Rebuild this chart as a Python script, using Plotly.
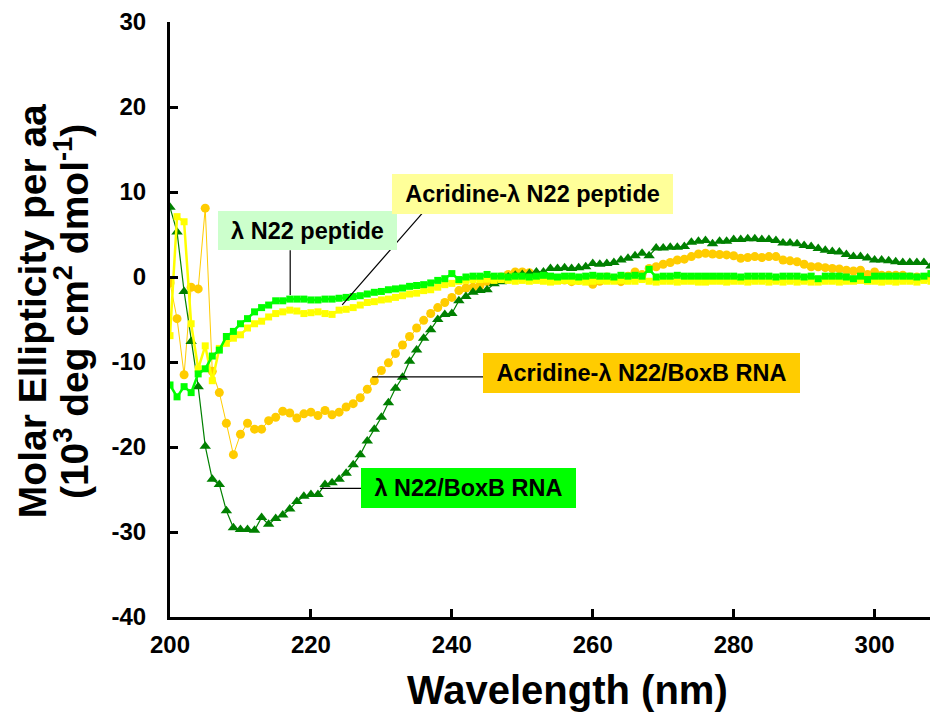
import plotly.graph_objects as go

# ---------------- data ----------------
wavelength = list(range(200, 310))

# λ N22/BoxB RNA (dark green triangles)
boxb_rna = [
    8.2, 5.3, -1.7, -7.6, -12.9, -19.9, -23.8, -24.4, -27.5, -29.5,
    -29.7, -29.7, -29.8, -28.3, -29.1, -28.4, -28.0, -27.3, -26.4, -25.8,
    -25.6, -25.6, -24.4, -24.2, -23.8, -23.1, -22.1, -20.9, -19.3, -17.9,
    -16.5, -14.8, -13.1, -11.8, -9.9, -8.6, -7.2, -6.2, -5.0, -4.4,
    -4.3, -2.8, -2.3, -1.8, -1.6, -1.5, -0.8, -0.55, 0.0, 0.2,
    0.3, 0.4, 0.6, 0.6, 1.0, 1.0, 1.1, 1.0, 1.1, 1.2,
    1.6, 1.5, 1.6, 1.7, 2.0, 2.2, 2.5, 2.8, 2.5, 3.4,
    3.4, 3.5, 3.5, 3.6, 4.1, 4.2, 4.3, 3.9, 4.2, 4.2,
    4.4, 4.4, 4.5, 4.5, 4.4, 4.4, 4.3, 4.0, 4.0, 3.9,
    3.7, 3.6, 3.35, 3.15, 3.0, 2.95, 2.65, 2.4, 2.4, 2.25,
    2.0, 2.0, 1.9, 1.8, 1.7, 1.7, 1.7, 1.7, 1.3, 1.4,
]

# Acridine-λ N22/BoxB RNA (orange circles)
acr_boxb_rna = [
    -0.7, -4.9, -11.5, -1.2, -1.4, 8.1, -11.1, -13.6, -17.2, -20.9,
    -18.5, -17.2, -17.9, -17.9, -16.9, -16.5, -15.8, -16.0, -16.6, -16.1,
    -15.9, -16.3, -15.7, -16.2, -15.9, -15.3, -14.9, -14.2, -13.2, -12.2,
    -11.0, -10.1, -9.0, -8.0, -7.0, -6.0, -5.1, -4.3, -3.6, -3.0,
    -2.4, -1.6, -1.3, -1.2, -1.0, -0.55, -0.3, 0.0, 0.3, 0.6,
    0.6, 0.5, 0.3, 0.1, -0.1, -0.3, -0.35, -0.55, -0.4, -0.35,
    -0.85, -0.5, 0.0, -0.3, -0.55, 0.1, 0.6, 0.3, 1.0, 1.2,
    1.5, 1.7, 2.0, 2.1, 2.4, 2.7, 2.8, 2.7, 2.65, 2.6,
    2.5, 2.2, 2.3, 2.4, 2.3, 2.4, 2.4, 2.0, 1.9, 1.8,
    1.5, 1.2, 1.2, 1.1, 1.0, 0.95, 0.8, 0.7, 0.8, 0.3,
    0.6, 0.2, 0.2, 0.2, 0.2, 0.0, 0.0, -0.15, 0.2, 0.0,
]

# Acridine-λ N22 peptide (yellow squares)
acr_peptide = [
    -6.9, 7.1, 6.5, -5.5, -10.8, -8.1, -12.2, -8.4, -7.8, -7.2,
    -6.8, -6.0, -5.5, -5.2, -4.7, -4.3, -4.1, -3.9, -4.0, -4.3,
    -4.2, -4.1, -4.3, -4.4, -3.9, -3.8, -3.6, -3.3, -3.0, -2.9,
    -2.7, -2.6, -2.4, -2.2, -2.0, -1.9, -1.6, -1.5, -1.2, -0.9,
    -0.75, -0.5, -0.4, -0.3, -0.3, -0.25, -0.4, -0.3, -0.4, -0.5,
    -0.4, -0.5, -0.4, -0.5, -0.6, -0.5, -0.4, -0.5, -0.5, -0.6,
    -0.5, -0.4, -0.5, -0.5, -0.4, -0.5, -0.5, -0.3, -0.5, -0.6,
    -0.5, -0.5, -0.6, -0.5, -0.5, -0.6, -0.6, -0.5, -0.5, -0.6,
    -0.5, -0.5, -0.6, -0.5, -0.5, -0.6, -0.5, -0.6, -0.5, -0.6,
    -0.5, -0.6, -0.6, -0.5, -0.5, -0.6, -0.5, -0.5, -0.4, -0.5,
    -0.5, -0.6, -0.5, -0.6, -0.5, -0.5, -0.6, -0.4, -0.5, -0.5,
]

# λ N22 peptide (bright green squares)
peptide = [
    -12.7, -14.1, -12.9, -13.6, -11.4, -10.8, -9.3, -8.6, -7.0, -6.4,
    -5.5, -4.9, -4.1, -3.6, -3.3, -2.8, -2.8, -2.6, -2.6, -2.6,
    -2.7, -2.7, -2.6, -2.6, -2.5, -2.4, -2.3, -2.2, -2.0, -1.8,
    -1.7, -1.5, -1.4, -1.3, -1.1, -1.0, -0.9, -0.7, -0.4, -0.2,
    0.4, -0.3, 0.0, 0.1, 0.1, 0.3, 0.1, 0.1, 0.0, 0.1,
    0.1, 0.0, 0.1, 0.2, 0.1, 0.0, 0.1, 0.1, 0.0, 0.1,
    0.2, 0.1, 0.1, 0.0, 0.2, 0.1, 0.2, 0.1, 0.9, 0.0,
    0.1, 0.1, 0.2, 0.1, 0.1, 0.1, 0.1, 0.1, 0.1, 0.1,
    0.1, 0.0, 0.1, 0.1, 0.1, 0.1, 0.0, 0.1, 0.1, 0.1,
    0.0, 0.1, -0.2, 0.1, 0.1, 0.1, 0.0, -0.2, 0.1, -0.3,
    0.1, 0.1, 0.1, 0.1, 0.1, 0.1, 0.0, 0.1, 0.4, 0.1,
]

x_tick_vals = [200, 220, 240, 260, 280, 300]
x_tick_text = ["200", "220", "240", "260", "280", "300"]
y_tick_vals = [-40, -30, -20, -10, 0, 10, 20, 30]
y_tick_text = ["-40", "-30", "-20", "-10", "0", "10", "20", "30"]

label_texts = ["λ N22 peptide", "Acridine-λ N22 peptide",
               "Acridine-λ N22/BoxB RNA", "λ N22/BoxB RNA"]

# ---------------- layout constants ----------------
FONT = "Liberation Sans, Arial, sans-serif"
X_RANGE = [200, 309]
Y_RANGE = [-40, 30]

fig = go.Figure()

fig.add_trace(go.Scatter(
    x=wavelength, y=acr_boxb_rna, mode="lines+markers",
    name="Acridine-λ N22/BoxB RNA",
    line=dict(color="#ffcc00", width=1),
    marker=dict(symbol="circle", size=9, color="#ffcc00"),
))
fig.add_trace(go.Scatter(
    x=wavelength, y=boxb_rna, mode="lines+markers",
    name="λ N22/BoxB RNA",
    line=dict(color="#008000", width=1.2),
    marker=dict(symbol="triangle-up", size=10, color="#008000"),
))
fig.add_trace(go.Scatter(
    x=wavelength, y=acr_peptide, mode="lines+markers",
    name="Acridine-λ N22 peptide",
    line=dict(color="#ffff00", width=2.5),
    marker=dict(symbol="square", size=7, color="#ffff00"),
))
fig.add_trace(go.Scatter(
    x=wavelength, y=peptide, mode="lines+markers",
    name="λ N22 peptide",
    line=dict(color="#00ff00", width=2.5),
    marker=dict(symbol="square", size=7, color="#00ff00"),
))

# label boxes: (text, x-center, y-center in data units, width px, height px, bg)
label_boxes = [
    (label_texts[0], 219.55, 5.44, 179, 39, "#ccffcc"),
    (label_texts[1], 251.46, 9.72, 281, 40, "#ffff99"),
    (label_texts[2], 266.92, -11.27, 317, 40, "#ffcc00"),
    (label_texts[3], 242.38, -24.87, 215, 40, "#00ff00"),
]
# leader lines (x0, y0, x1, y1) in data units
leaders = [
    (217.06, 3.15, 217.06, -2.12),
    (235.79, 7.49, 224.44, -3.29),
    (228.70, -11.74, 246.14, -11.74),
    (221.32, -24.87, 228.70, -24.87),
]

shapes = [dict(type="line", xref="x", yref="y", x0=a, y0=b, x1=c, y1=d,
               line=dict(color="black", width=1.2), layer="above")
          for (a, b, c, d) in leaders]

annotations = []
for (t, cx, cy, w, h, bg) in label_boxes:
    annotations.append(dict(
        text=t, x=cx, y=cy, xref="x", yref="y", showarrow=False,
        width=w, height=h, bgcolor=bg, borderpad=0, borderwidth=0,
        xanchor="center", yanchor="middle", align="center", valign="middle",
        font=dict(family=FONT, size=23.5, color="black", weight="bold"),
    ))

# axis titles as annotations
annotations.append(dict(
    text="Wavelength (nm)", xref="paper", yref="paper",
    x=0.518, y=-0.1225, showarrow=False, xanchor="center", yanchor="middle",
    font=dict(family=FONT, size=40, color="black", weight="bold"),
))
annotations.append(dict(
    text="Molar Ellipticity per aa", xref="paper", yref="paper",
    x=-0.1797, y=0.514, showarrow=False, textangle=-90,
    xanchor="center", yanchor="middle",
    font=dict(family=FONT, size=39, color="black", weight="bold"),
))
annotations.append(dict(
    text="(10<sup>3</sup> deg cm<sup>2</sup> dmol<sup>-1</sup>)",
    xref="paper", yref="paper",
    x=-0.1290, y=0.514, showarrow=False, textangle=-90,
    xanchor="center", yanchor="middle",
    font=dict(family=FONT, size=39, color="black", weight="bold"),
))

# the page body adds an 8 px offset; size the figure so the plot area
# lands at the reference position inside the 938x727 window
fig.update_layout(
    width=930, height=719,
    margin=dict(l=162, r=0, t=12, b=110),
    paper_bgcolor="white", plot_bgcolor="white",
    showlegend=False,
    font=dict(family=FONT, color="black"),
    shapes=shapes,
    annotations=annotations,
)

fig.update_xaxes(
    range=X_RANGE, showgrid=False, zeroline=False,
    showline=True, linecolor="black", linewidth=3,
    ticks="inside", ticklen=8, tickwidth=3, tickcolor="black",
    tickvals=x_tick_vals, ticktext=x_tick_text,
    tickfont=dict(family=FONT, size=24, color="black", weight="bold"),
    ticklabelstandoff=4, ticklabeloverflow="allow",
)
fig.update_yaxes(
    range=Y_RANGE, showgrid=False, zeroline=False,
    showline=True, linecolor="black", linewidth=3,
    ticks="inside", ticklen=8, tickwidth=3, tickcolor="black",
    tickvals=y_tick_vals, ticktext=y_tick_text,
    tickfont=dict(family=FONT, size=24, color="black", weight="bold"),
    ticklabelstandoff=16, ticklabeloverflow="allow",
)

fig.write_html("out.html")
